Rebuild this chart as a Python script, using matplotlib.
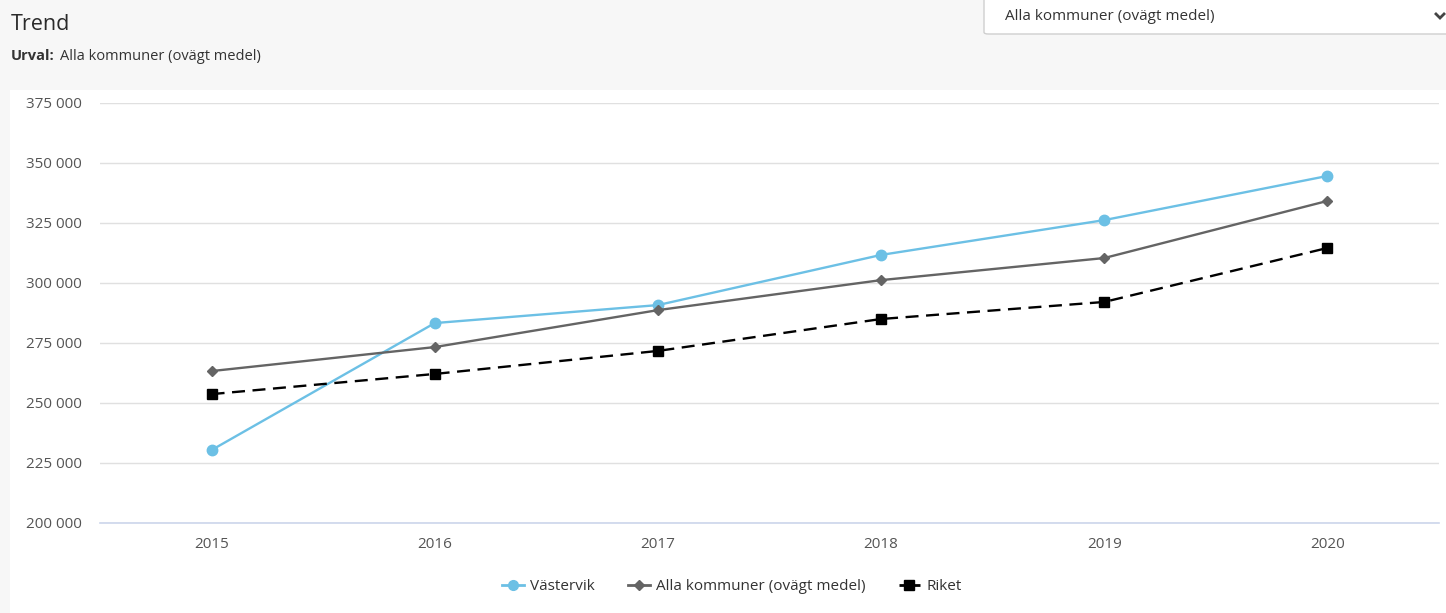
import matplotlib
matplotlib.use("Agg")
import matplotlib.pyplot as plt
from matplotlib.patches import Rectangle, FancyBboxPatch
from matplotlib.lines import Line2D

years = ["2015", "2016", "2017", "2018", "2019", "2020"]
vastervik = [230400, 283300, 290800, 311700, 326200, 344600]
alla_kommuner = [263300, 273300, 288700, 301200, 310400, 334200]
riket = [253700, 262100, 271700, 285000, 292100, 314600]
y_ticks = [200000, 225000, 250000, 275000, 300000, 325000, 350000, 375000]

W, H = 1446, 613
fig = plt.figure(figsize=(W / 100, H / 100), dpi=100)
fig.patch.set_facecolor("#f7f7f7")
FONT = "Open Sans"
TXT = "#333333"

def px(x, y, w, h):
    return [x / W, 1 - (y + h) / H, w / W, h / H]

def fx(x):
    return x / W

def fy(y):
    return 1 - y / H

# white chart panel
fig.add_artist(Rectangle((fx(10), 0), (W - 10) / W, (H - 90) / H,
                         transform=fig.transFigure, facecolor="white",
                         edgecolor="none", zorder=0))

# dropdown box in the header
fig.add_artist(FancyBboxPatch((fx(984), fy(34)), (W - 984) / W + 0.01, 40 / H,
                              boxstyle="round,pad=0,rounding_size=0.003",
                              transform=fig.transFigure, facecolor="white",
                              edgecolor="#cfcfcf", linewidth=1, zorder=1))
fig.text(fx(1005), fy(17), "Alla kommuner (ovägt medel)", fontsize=11,
         color=TXT, va="center", ha="left", family=FONT)
fig.add_artist(Line2D([fx(1435), fx(1440), fx(1445)], [fy(13), fy(18), fy(13)],
                      transform=fig.transFigure, color="#444444", linewidth=2,
                      solid_capstyle="butt", solid_joinstyle="miter"))

fig.text(fx(11), fy(24), "Trend", fontsize=15.5, color="#2a2a2a",
         va="center", ha="left", family=FONT, fontweight="medium")
fig.text(fx(11), fy(56), "Urval:", fontsize=10.5, color=TXT,
         va="center", ha="left", family=FONT, fontweight="bold")
fig.text(fx(60), fy(56), "Alla kommuner (ovägt medel)", fontsize=10.5,
         color=TXT, va="center", ha="left", family=FONT)

ax = fig.add_axes(px(100, 103, 1339, 420))
ax.set_facecolor("none")
x = list(range(len(years)))

ax.plot(x, vastervik, color="#6cc0e5", linewidth=1.7, marker="o", markersize=7.5,
        label="Västervik", zorder=3)
ax.plot(x, alla_kommuner, color="#646464", linewidth=1.7, marker="D", markersize=5.5,
        label="Alla kommuner (ovägt medel)", zorder=3)
ax.plot(x, riket, color="#000000", linewidth=1.7, linestyle=(0, (5.5, 3.2)),
        marker="s", markersize=7.5, label="Riket", zorder=3)

ax.set_xlim(-0.5, len(years) - 0.5)
ax.set_ylim(200000, 375000)
ax.set_xticks(x)
ax.set_xticklabels(years)
ax.set_yticks(y_ticks)
ax.set_yticklabels([f"{v:,}".replace(",", " ") for v in y_ticks])
ax.grid(axis="y", color="#e0e0e0", linewidth=1)
ax.set_axisbelow(True)
for s in ["top", "right", "left"]:
    ax.spines[s].set_visible(False)
ax.spines["bottom"].set_color("#ccd6eb")
ax.spines["bottom"].set_linewidth(1.2)
ax.tick_params(axis="both", length=0, labelsize=11, labelcolor="#555555")
ax.tick_params(axis="x", pad=10)
ax.tick_params(axis="y", pad=13)
for lbl in ax.get_xticklabels() + ax.get_yticklabels():
    lbl.set_family(FONT)

handles = [
    Line2D([], [], color="#6cc0e5", linewidth=2, marker="o", markersize=7),
    Line2D([], [], color="#646464", linewidth=2, marker="D", markersize=5),
    Line2D([], [], color="#000000", linewidth=2, linestyle=(0, (3, 2)), marker="s", markersize=7),
]
leg = fig.legend(handles, ["Västervik", "Alla kommuner (ovägt medel)", "Riket"],
                 loc="center", bbox_to_anchor=(fx(732), fy(587)), ncol=3,
                 frameon=False, handlelength=1.4, handletextpad=0.4,
                 columnspacing=2.2, prop={"family": FONT, "size": 11})
for t in leg.get_texts():
    t.set_color(TXT)

fig.savefig("out.png", dpi=100, facecolor=fig.get_facecolor())
